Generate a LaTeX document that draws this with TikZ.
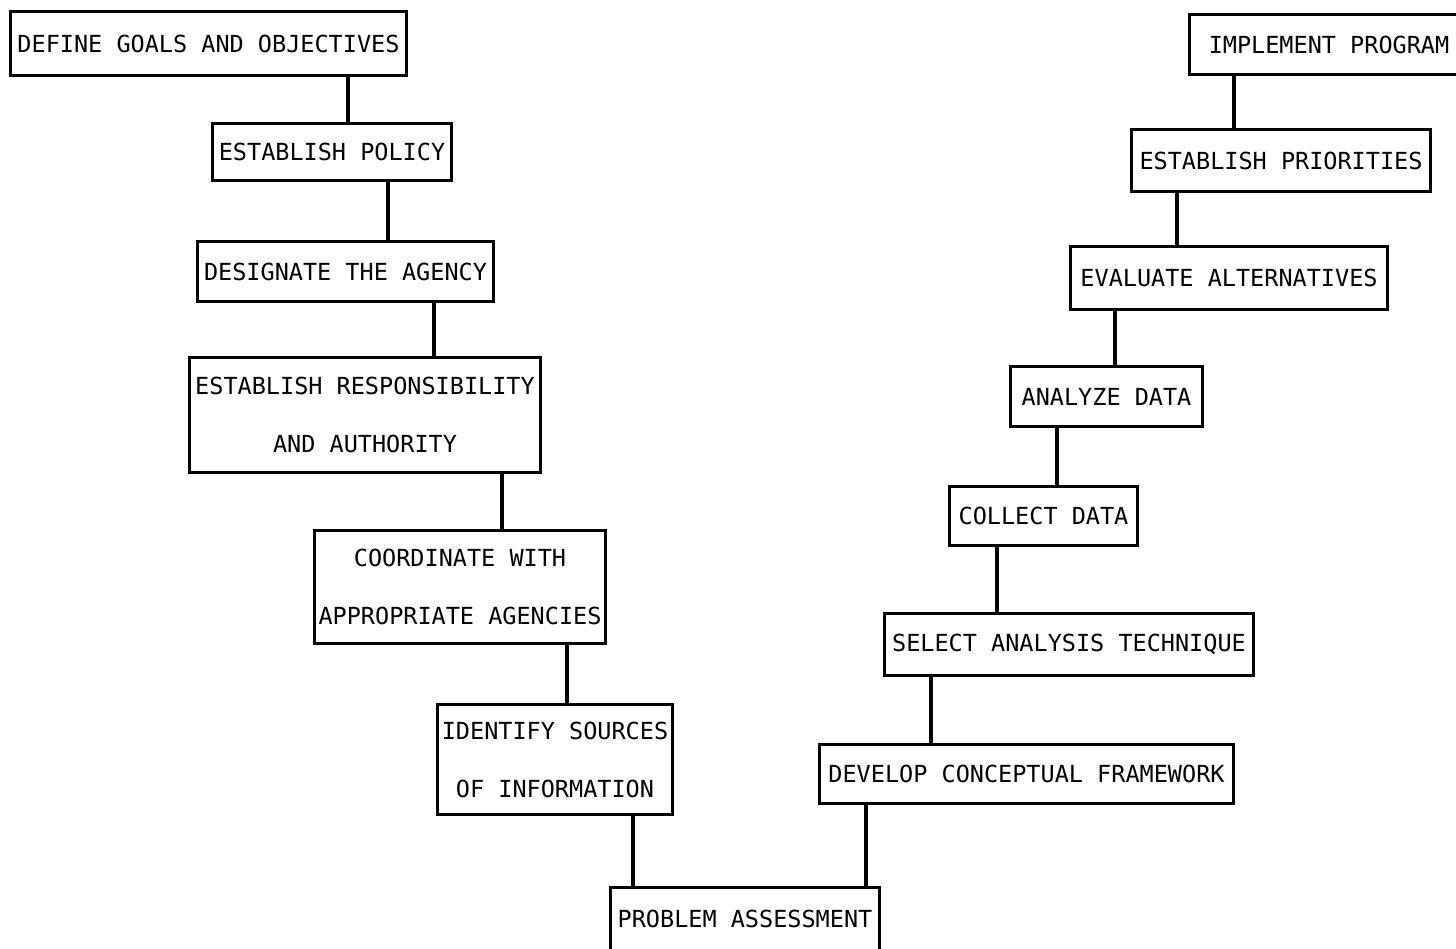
\documentclass[tikz,border=0pt]{standalone}
\usepackage{fontspec}
\newfontfamily\boxfont{DejaVu Sans Mono}
\begin{document}
\begin{tikzpicture}[x=1pt,y=-1pt,
  stepbox/.style={draw, line width=3.2pt, inner sep=0pt, align=center,
    font=\boxfont\fontsize{23.5}{58}\selectfont},
  link/.style={line width=3.2pt}]
\useasboundingbox (0,0) rectangle (1456,948);
\clip (0,0) rectangle (1456,948);

% left branch, descending
\node[stepbox, minimum width=396pt, minimum height=64pt] (def) at (208.5,43.5) {DEFINE GOALS AND OBJECTIVES};
\node[stepbox, minimum width=239pt, minimum height=57pt] (pol) at (332,152) {ESTABLISH POLICY};
\node[stepbox, minimum width=296pt, minimum height=60pt] (des) at (345.5,271.5) {DESIGNATE THE AGENCY};
\node[stepbox, minimum width=351pt, minimum height=115pt] (resp) at (365,415) {ESTABLISH RESPONSIBILITY\\AND AUTHORITY};
\node[stepbox, minimum width=291pt, minimum height=113pt] (coord) at (460,587) {COORDINATE WITH\\APPROPRIATE AGENCIES};
\node[stepbox, minimum width=235pt, minimum height=110pt] (ident) at (555,759.5) {IDENTIFY SOURCES\\OF INFORMATION};
\node[stepbox, minimum width=269pt, minimum height=63pt] (prob) at (745,919) {PROBLEM ASSESSMENT};

% right branch, ascending
\node[stepbox, minimum width=414pt, minimum height=59pt] (dev) at (1026.5,774) {DEVELOP CONCEPTUAL FRAMEWORK};
\node[stepbox, minimum width=369pt, minimum height=62pt] (sel) at (1069,644.5) {SELECT ANALYSIS TECHNIQUE};
\node[stepbox, minimum width=188pt, minimum height=59pt] (col) at (1043.5,516) {COLLECT DATA};
\node[stepbox, minimum width=192pt, minimum height=60pt] (ana) at (1106.5,396.5) {ANALYZE DATA};
\node[stepbox, minimum width=317pt, minimum height=63pt] (eval) at (1229,278) {EVALUATE ALTERNATIVES};
\node[stepbox, minimum width=299pt, minimum height=62pt] (prio) at (1281,160.5) {ESTABLISH PRIORITIES};
\node[stepbox, minimum width=279pt, minimum height=60pt] (impl) at (1329,44.5) {IMPLEMENT PROGRAM};

% vertical connectors
\draw[link] (def.south -| 348,0) -- (pol.north -| 348,0);
\draw[link] (pol.south -| 388,0) -- (des.north -| 388,0);
\draw[link] (des.south -| 434,0) -- (resp.north -| 434,0);
\draw[link] (resp.south -| 502,0) -- (coord.north -| 502,0);
\draw[link] (coord.south -| 567,0) -- (ident.north -| 567,0);
\draw[link] (ident.south -| 633,0) -- (prob.north -| 633,0);
\draw[link] (prob.north -| 866,0) -- (dev.south -| 866,0);
\draw[link] (dev.north -| 931,0) -- (sel.south -| 931,0);
\draw[link] (sel.north -| 997,0) -- (col.south -| 997,0);
\draw[link] (col.north -| 1057,0) -- (ana.south -| 1057,0);
\draw[link] (ana.north -| 1115,0) -- (eval.south -| 1115,0);
\draw[link] (eval.north -| 1177,0) -- (prio.south -| 1177,0);
\draw[link] (prio.north -| 1234,0) -- (impl.south -| 1234,0);
\end{tikzpicture}
\end{document}
